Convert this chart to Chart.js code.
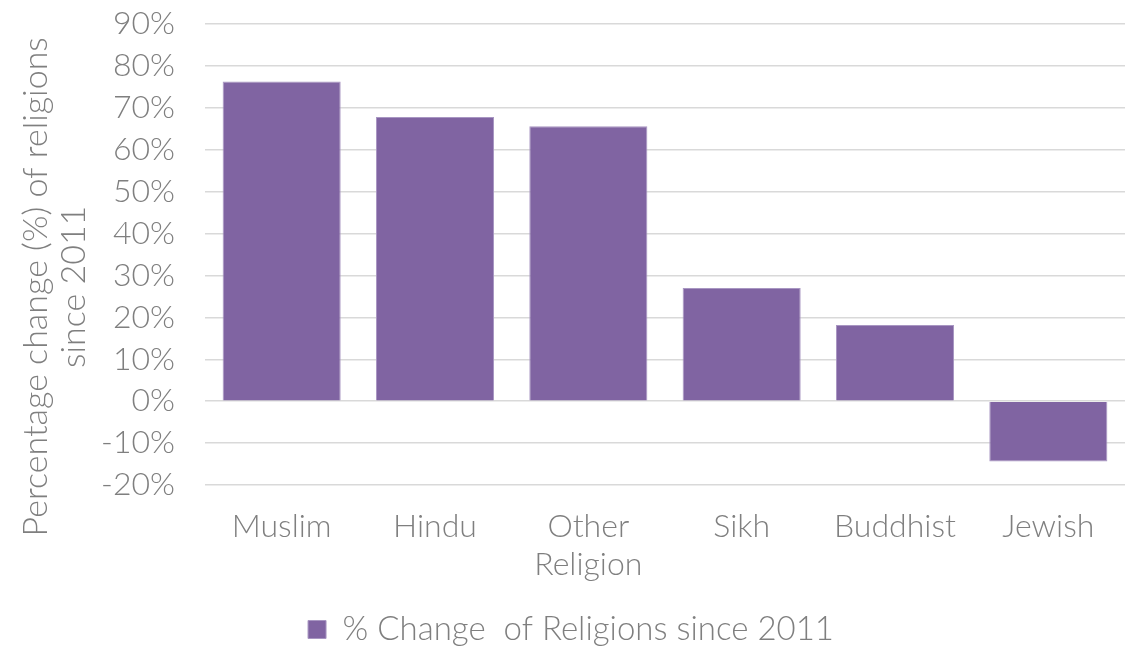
<!DOCTYPE html>
<html>
<head>
<meta charset="utf-8">
<script src="https://cdn.jsdelivr.net/npm/chart.js@4"></script>
<style>
    html, body { margin: 0; padding: 0; background: #fff; }
    #wrap { width: 1133px; height: 646px; }
</style>
</head>
<body>
<div id="wrap"><canvas id="c"></canvas></div>
<script>
const categories = ['Muslim', 'Hindu', ['Other', 'Religion'], 'Sikh', 'Buddhist', 'Jewish'];
const changePct  = [76.3, 67.8, 65.6, 27.0, 18.2, -14.4];
const seriesName = '% Change  of Religions since 2011';
const yTitle     = ['Percentage change (%) of religions', 'since 2011'];

const grey = '#7f7f7f';
const font = 'Lato, "Open Sans", sans-serif';
const tickFont = { family: font, size: 32, weight: 300, lineHeight: 1.2 };
// trailing spaces push the rotated title a little below the plot centre, as in the original
const titlePad = '\u00a0'.repeat(7);

new Chart(document.getElementById('c'), {
    type: 'bar',
    data: {
        labels: categories,
        datasets: [{
            label: seriesName,
            data: changePct,
            backgroundColor: '#8064a2',
            borderColor: '#a896c2',
            borderWidth: 1,
            categoryPercentage: 1,
            barPercentage: 0.77,
        }]
    },
    options: {
        responsive: true,
        maintainAspectRatio: false,
        animation: false,
        layout: { padding: { top: 24, right: 8, left: 17, bottom: -10 } },
        scales: {
            x: {
                grid: { display: false },
                border: { display: false },
                ticks: { color: grey, font: tickFont, padding: 14, maxRotation: 0, autoSkip: false },
                afterFit(scale) { scale.height = 125; },
            },
            y: {
                min: -20,
                max: 90,
                ticks: {
                    stepSize: 10,
                    autoSkip: false,
                    color: grey,
                    font: tickFont,
                    padding: 0,
                    callback: v => v + '%',
                },
                // tick marks used only as the gap between labels and plot
                grid: { color: '#d9d9d9', lineWidth: 1.5, drawTicks: true, tickLength: 30, tickColor: 'rgba(0,0,0,0)' },
                border: { display: false },
                title: {
                    display: true,
                    text: yTitle.map(t => t + titlePad),
                    color: grey,
                    font: { family: font, size: 34, weight: 300, lineHeight: 1.12 },
                    padding: { top: 0, bottom: 6 },
                },
                afterFit(scale) { scale.width = 188; },
            },
        },
        plugins: {
            legend: {
                position: 'bottom',
                labels: { color: grey, font: { family: font, size: 33, weight: 300, lineHeight: 1 }, boxWidth: 18, boxHeight: 18, padding: 3 },
            },
            tooltip: { enabled: false },
        },
    },
});
</script>
</body>
</html>
